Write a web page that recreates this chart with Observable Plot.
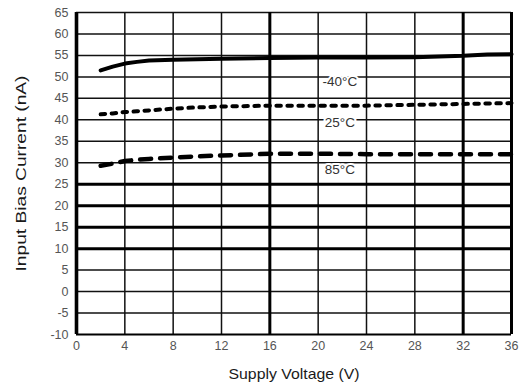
<!DOCTYPE html>
<html><head><meta charset="utf-8">
<script src="https://cdn.jsdelivr.net/npm/d3@7"></script>
<script src="https://cdn.jsdelivr.net/npm/@observablehq/plot@0.6"></script>
<style>body{margin:0;background:#fff;} svg{display:block}</style>
</head><body><div id="chart"></div>
<script>
const voltage = [2, 3, 4, 5, 6, 8, 10, 12, 16, 20, 24, 28, 32, 34, 36];
const biasM40 = [51.5, 52.4, 53.1, 53.5, 53.8, 54.0, 54.1, 54.2, 54.4, 54.5, 54.5, 54.6, 54.9, 55.2, 55.3];
const bias25  = [41.3, 41.5, 41.8, 42.0, 42.2, 42.6, 42.9, 43.1, 43.3, 43.3, 43.3, 43.5, 43.7, 43.8, 43.9];
const bias85  = [29.3, 29.8, 30.4, 30.7, 30.9, 31.2, 31.5, 31.7, 32.1, 32.1, 32.0, 32.0, 32.0, 32.0, 32.0];
const seriesNames = ["-40°C", "25°C", "85°C"];
const labelVoltage = [21.8, 21.8, 21.8];
const labelBias = [49.0, 39.3, 28.4];
const xTicks = [0, 4, 8, 12, 16, 20, 24, 28, 32, 36];
const yTicks = [-10, -5, 0, 5, 10, 15, 20, 25, 30, 35, 40, 45, 50, 55, 60, 65];
const thickX = [0, 16, 32, 36];
const thickY = [25, 20, 15, 10, -10];

const mk = (arr) => voltage.map((v, i) => ({v, b: arr[i]}));
const labels = seriesNames.map((s, i) => ({s, v: labelVoltage[i], b: labelBias[i]}));

const svg = Plot.plot({
  width: 522, height: 384,
  marginLeft: 76, marginRight: 11, marginTop: 12, marginBottom: 50,
  style: {fontFamily: "'Liberation Sans', Arial, sans-serif", fontSize: "12.5px", background: "#fff"},
  x: {domain: [0, 36]},
  y: {domain: [-10, 65]},
  marks: [
    Plot.ruleX(xTicks.filter(d => !thickX.includes(d)), {stroke: "#111", strokeWidth: 1.5}),
    Plot.ruleY(yTicks.filter(d => !thickY.includes(d)), {stroke: "#111", strokeWidth: 1.5}),
    Plot.ruleX(thickX, {stroke: "#000", strokeWidth: d => d === 0 ? 3.6 : 3}),
    Plot.ruleY(thickY, {stroke: "#000", strokeWidth: d => d === -10 ? 2.2 : 3}),
    Plot.line(mk(biasM40), {x: "v", y: "b", stroke: "#000", strokeWidth: 4}),
    Plot.line(mk(bias25), {x: "v", y: "b", stroke: "#000", strokeWidth: 4, strokeDasharray: "4.5,6.5"}),
    Plot.line(mk(bias85), {x: "v", y: "b", stroke: "#000", strokeWidth: 4.5, strokeDasharray: "11,9"}),
    Plot.text(labels, {x: "v", y: "b", text: "s", fill: "#333", stroke: "white", strokeWidth: 4, fontSize: 13.5}),
    Plot.axisX(xTicks, {tickSize: 0, tickPadding: 7, tickFormat: d => String(d), label: "Supply Voltage (V)", labelAnchor: "center", labelArrow: "none", labelOffset: 44, fill: "#555"}),
    Plot.axisY(yTicks, {tickSize: 0, tickPadding: 8, tickFormat: d => String(d), label: "Input Bias Current (nA)", labelAnchor: "center", labelArrow: "none", labelOffset: 60, fill: "#555"})
  ]
});
const s = d3.select(svg);
s.selectAll('g[aria-label="x-axis label"] text').attr("fill", "#1a1a1a").style("font-size", "15px").attr("textLength", 131).attr("lengthAdjust", "spacingAndGlyphs");
s.selectAll('g[aria-label="y-axis label"] text').attr("fill", "#1a1a1a").style("font-size", "14px").attr("textLength", 196).attr("lengthAdjust", "spacingAndGlyphs");
document.getElementById("chart").appendChild(svg);
</script>
</body></html>
